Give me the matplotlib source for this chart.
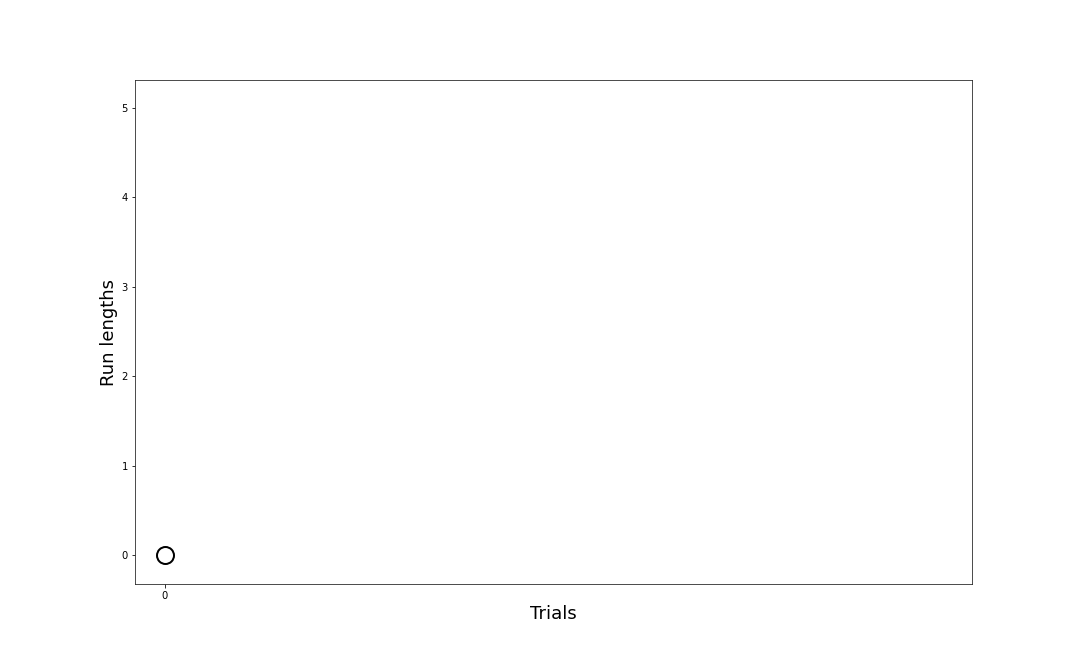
import matplotlib
matplotlib.use("Agg")
import matplotlib.pyplot as plt

# data: one trial so far
trials = [0]
run_lengths = [0]
xtick_labels = ["0"]

fig = plt.figure(figsize=(15, 667 / 72), dpi=72)
ax = fig.add_axes([0.125, 0.1244, 0.775, 0.7556])

ax.plot(trials, run_lengths, "o", markersize=17, markerfacecolor="none",
        markeredgecolor="black", markeredgewidth=2)

ax.set_xlim(-1, 27)
ax.set_ylim(-0.32, 5.31)
ax.set_xticks(trials)
ax.set_xticklabels(xtick_labels)
ax.set_yticks(range(6))
ax.set_xlabel("Trials", fontsize=18)
ax.set_ylabel("Run lengths", fontsize=18)

for s in ax.spines.values():
    s.set_color("#222222")

fig.savefig("out.png", dpi=72)
